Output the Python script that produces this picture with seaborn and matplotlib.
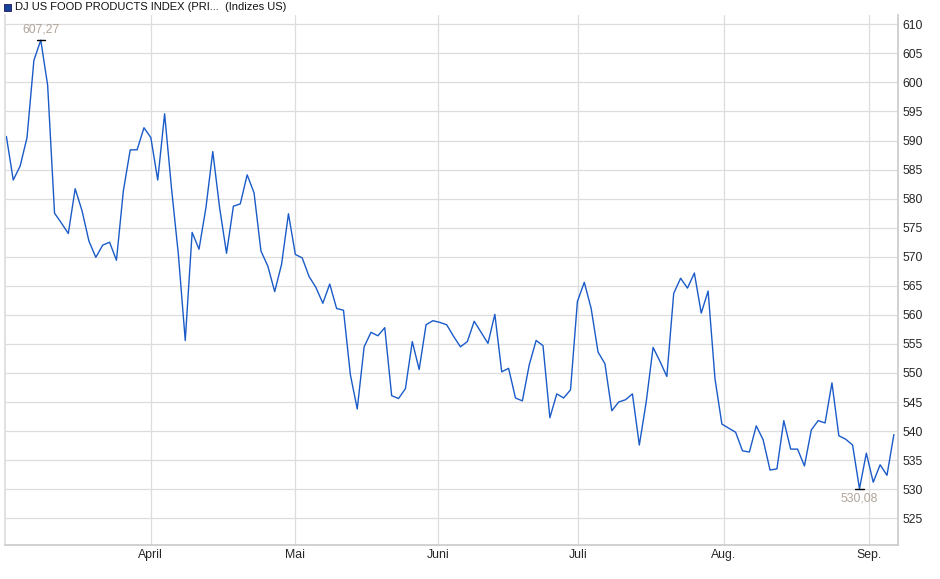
import matplotlib
matplotlib.use("Agg")
import matplotlib.pyplot as plt
import seaborn as sns
import numpy as np
import pandas as pd

part1 = [590.7, 583.2, 585.6, 590.5, 603.8, 607.27, 599.5, 577.5, 575.8, 574.0,
         581.7, 577.9, 572.7, 569.9, 572.0, 572.5, 569.4, 581.3, 588.4, 588.4,
         592.2, 590.5, 583.2, 594.6, 581.8, 570.4, 555.6, 574.2, 571.3, 578.4,
         588.1, 578.4, 570.6, 578.7, 579.1, 584.1, 581.0, 571.0, 568.4, 564.0,
         568.7, 577.4, 570.4]
part2 = [569.8, 566.6, 564.7, 562.0, 565.3, 561.1, 560.8, 549.7, 543.8, 554.5,
         557.0, 556.4, 557.8, 546.1, 545.6, 547.3, 555.4, 550.6, 558.3, 559.0,
         558.7, 558.3, 556.3, 554.5, 555.4, 558.9, 557.0, 555.1, 560.1, 550.2,
         550.8, 545.7, 545.2, 551.4, 555.6, 554.7, 542.3, 546.4, 545.7, 547.1,
         562.3, 565.6, 561.1, 553.6]
part3 = [551.6, 543.5, 545.0, 545.4, 546.4, 537.6, 545.0, 554.4, 552.0, 549.4,
         563.7, 566.3, 564.6, 567.2, 560.3, 564.1, 549.0, 541.2, 540.5, 539.8,
         536.6, 536.4, 540.9, 538.5, 533.3, 533.5, 541.8, 536.9, 536.9, 534.0,
         540.2, 541.8, 541.4, 548.3, 539.2, 538.6, 537.6, 530.08, 536.2, 531.2,
         534.2, 532.4, 539.4]
values = part1 + part2 + part3
month_labels = ["April", "Mai", "Juni", "Juli", "Aug.", "Sep."]
month_idx = [21.0, 41.9, 62.8, 83.1, 104.3, 125.4]
y_ticks = list(range(525, 611, 5))
title = "DJ US FOOD PRODUCTS INDEX (PRI...  (Indizes US)"

df = pd.DataFrame({"i": np.arange(len(values)), "v": values})

sns.set_theme(style="white")
plt.rcParams['font.family'] = ['Liberation Sans', 'DejaVu Sans']
fig = plt.figure(figsize=(9.4, 5.79), dpi=100)
ax = fig.add_axes([5/940, 1-545/579, 893/940, 530/579])
sns.lineplot(data=df, x="i", y="v", ax=ax, color="#1a5bc8", linewidth=1.0)
ax.set_xlim(-0.2, len(values) - 0.4)
ax.set_ylim(520.4, 611.6)
ax.set_xticks(month_idx)
ax.set_xticklabels(month_labels, fontsize=8.8)
ax.set_yticks(y_ticks)
ax.set_yticklabels([str(t) for t in y_ticks], fontsize=8.8)
ax.yaxis.tick_right()
ax.tick_params(axis='both', length=0, pad=3)
ax.grid(True, color="#dddddd", linewidth=0.9)
ax.set_xlabel(""); ax.set_ylabel("")
for s in ["top", "right", "left", "bottom"]:
    ax.spines[s].set_visible(False)
ax.spines["right"].set_visible(True); ax.spines["right"].set_color("#cccccc")
ax.spines["bottom"].set_visible(True); ax.spines["bottom"].set_color("#cccccc")
ax.spines["left"].set_visible(True); ax.spines["left"].set_color("#dddddd")

imax = int(np.argmax(values)); imin = int(np.argmin(values))
for idx, va, off in [(imax, "bottom", 3), (imin, "top", -3)]:
    v = values[idx]
    ax.plot([idx - 0.6, idx + 0.6], [v, v], color="black", linewidth=1)
    ax.annotate(f"{v:.2f}".replace(".", ","), (idx, v), xytext=(0, off),
                textcoords="offset points", ha="center", va=va,
                fontsize=8.8, color="#b0a49a")

fig.patches.append(matplotlib.patches.Rectangle((4/940, 1-11/579), 7/940, 7/579,
                   transform=fig.transFigure, facecolor="#1a3fa0", edgecolor="#000033", linewidth=0.5))
fig.text(15/940, 1-7.5/579, title, fontsize=8, va="center", ha="left", color="#111111")
fig.savefig("out.png", dpi=100)
